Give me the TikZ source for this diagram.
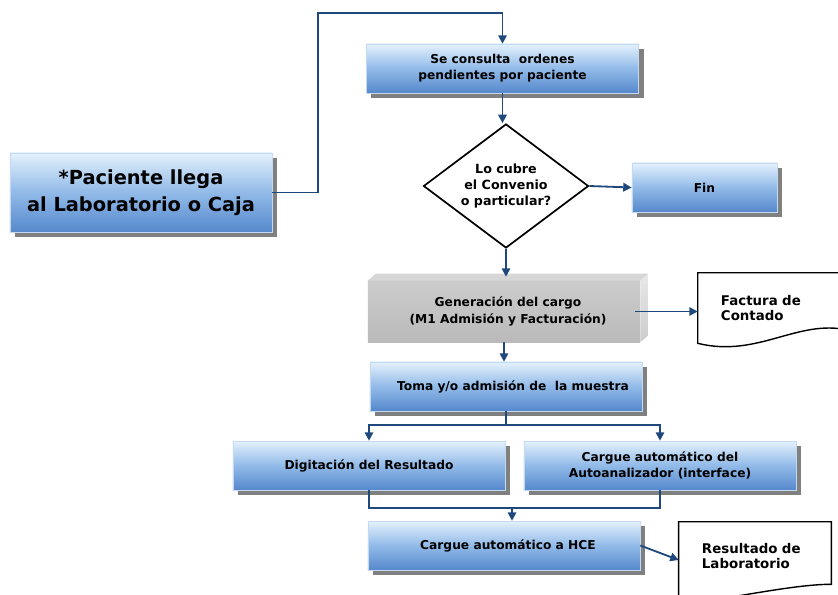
\documentclass[tikz,border=0pt]{standalone}
\usepackage{fontspec}
\setmainfont{DejaVu Sans}
\usetikzlibrary{arrows.meta, positioning, calc, shapes.geometric, shadows}

\definecolor{boxtop}{RGB}{228,241,252}
\definecolor{boxmid}{RGB}{145,186,232}
\definecolor{boxbot}{RGB}{86,136,204}
\definecolor{boxline}{RGB}{196,218,242}
\definecolor{arrblue}{RGB}{31,73,125}
\definecolor{shade}{RGB}{128,128,128}
\definecolor{cargotop}{RGB}{204,204,204}
\definecolor{cargobot}{RGB}{186,186,186}
\definecolor{cargolid}{RGB}{214,214,214}
\definecolor{cargoside}{RGB}{232,232,232}

\begin{document}
\begin{tikzpicture}[x=0.025cm, y=-0.025cm,
  box/.style={draw=boxline, line width=0.4pt, top color=boxtop, bottom color=boxbot, middle color=boxmid,
    drop shadow={shadow xshift=0.125cm, shadow yshift=-0.125cm, fill=shade, opacity=1},
    align=center, inner sep=2pt, minimum width=6.8cm, minimum height=1.225cm, font=\smallbold},
  cargobox/.style={top color=cargotop, bottom color=cargobot, align=center, inner sep=2pt,
    minimum width=6.8cm, minimum height=1.525cm, font=\smallbold},
  decision/.style={diamond, aspect=1.33, draw=black, line width=1.2pt, fill=white, inner sep=0pt, align=center,
    minimum width=4.125cm, minimum height=3.1cm, font=\decbold},
  doc/.style={inner sep=0pt, align=left, font=\docbold},
  docline/.style={draw=black, line width=1pt, fill=white},
  arr/.style={-{Triangle[length=6pt, width=6pt]}, draw=arrblue, line width=1.3pt},
  link/.style={draw=arrblue, line width=1.3pt}
]
  \newcommand{\smallbold}{\fontsize{8.7}{11.5}\selectfont\bfseries}
  \newcommand{\decbold}{\fontsize{9}{11.7}\selectfont\bfseries}
  \newcommand{\docbold}{\fontsize{9.5}{11}\selectfont\bfseries}
  \newcommand{\bigbold}{\fontsize{13.8}{19}\selectfont\bfseries}

  \useasboundingbox (0,0) rectangle (838,594);
  \clip (0,0) rectangle (838,594);
  \fill[white] (0,0) rectangle (838,594);

  \node[box] (consulta) at (502.5,68.5) {Se consulta\ \ ordenes\\ pendientes por paciente};
  \node[box, font=\bigbold, minimum width=6.55cm, minimum height=1.975cm] (paciente) at (141,192.5)
    {*Paciente llega\\ al Laboratorio o Caja};
  \node[decision] (cubre) at (506,186) {Lo cubre\\ el Convenio\\ o particular?};
  \node[box, minimum width=3.625cm] (fin) at (704.5,187.5) {Fin};

  \node[cargobox] (cargo) at (504,311.5) {\hspace*{0.2cm}Generación del cargo\\ \hspace*{0.2cm}(M1 Admisión y Facturación)};
  \fill[cargolid] (cargo.north west) -- ([shift={(8,-7)}]cargo.north west)
    -- ([shift={(8,-7)}]cargo.north east) -- (cargo.north east) -- cycle;
  \shade[top color=cargoside, bottom color=cargotop] (cargo.north east) -- ([shift={(8,-7)}]cargo.north east)
    -- ([shift={(8,-7)}]cargo.south east) -- (cargo.south east) -- cycle;

  \node[doc, text width=2.6cm, minimum width=3.75cm, minimum height=1.75cm] (factura) at (773,308) {};
  \draw[docline] (factura.south west) -- (factura.north west) -- (factura.north east)
    -- ([yshift=0.325cm]factura.south east) .. controls +(-50,-12) and +(60,15) .. (factura.south west) -- cycle;
  \node[doc, text width=2.6cm] at (factura) {Factura de\\ Contado};

  \node[box] (toma) at (506,386.5) {\hspace*{0.35cm}Toma y/o admisión de\ \ la muestra};
  \node[box] (digit) at (369,465.5) {Digitación del Resultado};
  \node[box] (auto) at (660,465.5) {Cargue automático del\\ Autoanalizador (interface)};
  \node[box] (hce) at (504,545.5) {\hspace*{0.2cm}Cargue automático a HCE};

  \node[doc, text width=2.65cm, minimum width=3.8cm, minimum height=1.7cm] (res) at (755,556) {};
  \draw[docline] (res.south west) ++(0,14) -- (res.north west) -- (res.north east)
    -- ([yshift=0.15cm]res.south east) .. controls +(-40,0) and +(45,-4) .. ([yshift=-0.35cm]res.south west) -- cycle;
  \node[doc, text width=2.65cm] at (res) {Resultado de\\ Laboratorio};

  \coordinate (loop) at (318,13);
  \coordinate (split) at (506,425);
  \coordinate (join) at (512,508);

  \draw[arr] (paciente.east) -| (loop) -| (consulta.north);
  \draw[arr] (consulta.south) -- (consulta.south |- cubre.north);
  \draw[arr] (cubre.east) -- (fin.west);
  \draw[arr] (cubre.south) -- ([yshift=0.1cm]cubre.south |- cargo.north);
  \draw[arr] ([xshift=-0.125cm]cargo.east) -- (cargo.east -| factura.west);
  \draw[arr] (cargo.south) -- (cargo.south |- toma.north);
  \draw[link] (toma.south) -- (toma.south |- split);
  \draw[arr] (split) -| (digit.north);
  \draw[arr] (split) -| (auto.north);
  \draw[link] (digit.south) |- (join) -| (auto.south);
  \draw[arr] (join) -- (join |- hce.north);
  \draw[arr] (hce.east) -- ([yshift=-0.1cm]res.west);
\end{tikzpicture}
\end{document}
